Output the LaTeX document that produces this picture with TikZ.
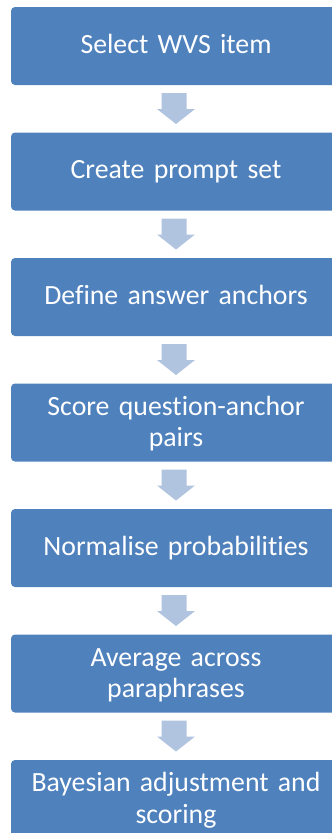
\documentclass[tikz,border=0pt]{standalone}
\usepackage{fontspec}
\setmainfont{Carlito}[Ligatures=NoCommon]
\usetikzlibrary{calc}
\definecolor{stepblue}{HTML}{4F81BD}
\definecolor{arrowblue}{HTML}{B0C3DF}
\begin{document}
\begin{tikzpicture}[x=1pt,y=-1pt,
  stepbox/.style={rectangle,rounded corners=4pt,fill=stepblue,
    minimum width=330pt,minimum height=78pt,inner sep=0pt,outer sep=0pt},
  steptext/.style={anchor=base,text=white,text width=320pt,align=center,
    inner sep=0pt,font=\fontsize{27.8}{31.5}\selectfont},
  downarrow/.style={fill=arrowblue}]
\useasboundingbox (0,0) rectangle (332,833);
\clip (0,0) rectangle (332,833);

% process steps
\node[stepbox] (b1) at (176,46)    {};
\node[stepbox] (b2) at (176,171.5) {};
\node[stepbox] (b3) at (176,297)   {};
\node[stepbox] (b4) at (176,422.5) {};
\node[stepbox] (b5) at (176,548)   {};
\node[stepbox] (b6) at (176,673.5) {};
\node[stepbox] (b7) at (176,799)   {};

% step labels (single lines sit lower than two-line labels)
\node[steptext] (t1) at ($(b1.center)+(0,7)$)    {Select WVS item};
\node[steptext] (t2) at ($(b2.center)+(0,7)$)    {Create prompt set};
\node[steptext] (t3) at ($(b3.center)+(0,7)$)    {Define answer anchors};
\node[steptext] (t4) at ($(b4.center)+(0,-7.5)$) {Score question-anchor\\pairs};
\node[steptext] (t5) at ($(b5.center)+(0,7)$)    {Normalise probabilities};
\node[steptext] (t6) at ($(b6.center)+(0,-7.5)$) {Average across\\paraphrases};
\node[steptext] (t7) at ($(b7.center)+(0,-7.5)$) {Bayesian adjustment and\\scoring};

% block arrows between consecutive steps
\foreach \a/\b in {b1/b2,b2/b3,b3/b4,b4/b5,b5/b6,b6/b7}
  \fill[downarrow]
    ($(\a.south)+(-14.5,8)$) -- ($(\a.south)+(10.5,8)$)
    -- ($(\a.south)+(10.5,24)$) -- ($(\a.south)+(19,24)$)
    -- ($(\b.north)+(0,-8.5)$)
    -- ($(\a.south)+(-19,24)$) -- ($(\a.south)+(-14.5,24)$) -- cycle;
\end{tikzpicture}
\end{document}
